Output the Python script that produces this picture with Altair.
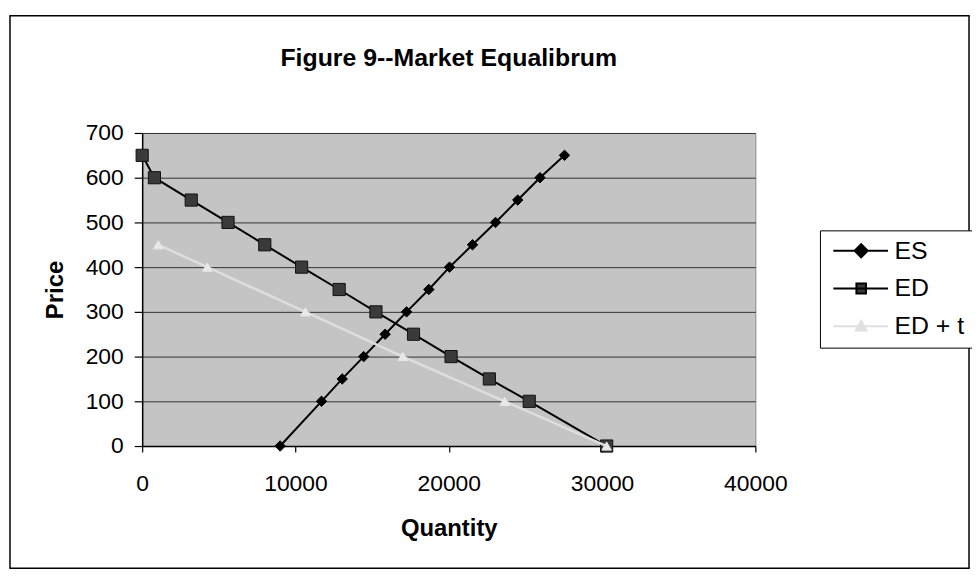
import altair as alt
import pandas as pd

# ---- data ----
SERIES = ["ES", "ED", "ED + t"]

es_quantity = [9000, 11700, 13050, 14450, 15850, 17250, 18700, 20050, 21550, 23050, 24500, 25950, 27550]
es_price = [0, 100, 150, 200, 250, 300, 350, 400, 450, 500, 550, 600, 650]

ed_quantity = [0, 800, 3200, 5600, 8000, 10400, 12850, 15250, 17700, 20150, 22650, 25250, 30300]
ed_price = [650, 600, 550, 500, 450, 400, 350, 300, 250, 200, 150, 100, 0]

edt_quantity = [1050, 4250, 10650, 17000, 23650, 30300]
edt_price = [450, 400, 300, 200, 100, 0]

y_ticks = [0, 100, 200, 300, 400, 500, 600, 700]
x_ticks = [0, 10000, 20000, 30000, 40000]

TITLE = "Figure 9--Market Equalibrum"
X_TITLE = "Quantity"
Y_TITLE = "Price"

FONT = "Liberation Sans"

rows = []
for name, qs, ps in [("ES", es_quantity, es_price), ("ED", ed_quantity, ed_price), ("ED + t", edt_quantity, edt_price)]:
    for i, (q, p) in enumerate(zip(qs, ps)):
        rows.append({"series": name, "quantity": q, "price": p, "idx": i})
df = pd.DataFrame(rows)

X = alt.X("quantity:Q",
          scale=alt.Scale(domain=[0, 40000], nice=False, zero=False),
          axis=alt.Axis(values=x_ticks, title=X_TITLE, format="d", tickSize=6,
                        labelPadding=21, titlePadding=21, grid=False, labelFlush=False,
                        labelOverlap=False))
Y = alt.Y("price:Q",
          scale=alt.Scale(domain=[0, 700], nice=False),
          axis=alt.Axis(values=y_ticks, title=Y_TITLE, tickSize=8, labelPadding=11,
                        titlePadding=18, grid=True, gridColor="#333333", gridWidth=1))

style = {
    "ES": dict(line="#000000", lw=2, shape="diamond", fill="#000000", stroke="#000000", size=110),
    "ED": dict(line="#000000", lw=2, shape="square", fill="#3a3a3a", stroke="#111111", size=150),
    "ED + t": dict(line="#dedede", lw=2.5, shape="triangle-up", fill="#e8e8e8", stroke="#e8e8e8", size=90),
}

frame = alt.Chart(pd.DataFrame({"k": [0]})).mark_rect(
    fill="white", fillOpacity=0, stroke="black", strokeWidth=1.5
).encode(x=alt.value(-133), x2=alt.value(832), y=alt.value(-118), y2=alt.value(438))

layers = [frame]
for name in SERIES:
    s = style[name]
    base = alt.Chart(df[df.series == name])
    layers.append(base.mark_line(color=s["line"], strokeWidth=s["lw"]).encode(x=X, y=Y, order="idx:Q"))
    layers.append(base.mark_point(filled=True, shape=s["shape"], size=s["size"], fill=s["fill"],
                                  stroke=s["stroke"], strokeWidth=1, opacity=1).encode(x=X, y=Y))

# legend symbols: line + marker as custom paths (unit = 6px at symbolSize 144)
path_es = "M-1.17,0H8M3.5,-1.1L4.6,0L3.5,1.1L2.4,0Z"
path_ed = "M-1.17,0H8M2.7,-0.85H4.3V0.85H2.7Z"
path_edt = "M-1.17,0H8M3.5,-0.9L4.4,0.7H2.6Z"

leg_props = dict(orient="none", legendX=682, legendY=98, title=None,
                 strokeColor="black", fillColor="white", padding=8, cornerRadius=0,
                 labelFont=FONT, labelFontSize=25, labelColor="black", labelOffset=42,
                 symbolSize=144, symbolStrokeWidth=2, rowPadding=12, symbolOpacity=1)

legend_layer = alt.Chart(df).transform_filter("false").mark_point(filled=True, opacity=1).encode(
    x=X, y=Y,
    shape=alt.Shape("series:N", scale=alt.Scale(domain=SERIES, range=[path_es, path_ed, path_edt]),
                    legend=alt.Legend(**leg_props)),
    fill=alt.Fill("series:N", scale=alt.Scale(domain=SERIES, range=["#000000", "#3a3a3a", "#e0e0e0"]),
                  legend=alt.Legend(**leg_props)),
    stroke=alt.Stroke("series:N", scale=alt.Scale(domain=SERIES, range=["#000000", "#000000", "#e0e0e0"]),
                      legend=alt.Legend(**leg_props)),
)
layers.append(legend_layer)

chart = alt.layer(*layers).properties(
    width=617, height=315,
    background="white",
    title=alt.TitleParams(TITLE, font=FONT, fontSize=25, fontWeight="bold", color="black",
                          anchor="middle", offset=-56),
    autosize=alt.AutoSizeParams(type="none"),
    padding={"left": 135, "top": 124, "right": 218, "bottom": 126},
).configure_view(
    fill="#c4c4c4", stroke="#8a8a8a", strokeWidth=1
).configure_axis(
    labelFont=FONT, labelFontSize=23, labelColor="black",
    titleFont=FONT, titleFontSize=24, titleFontWeight="bold", titleColor="black",
    domainColor="black", domainWidth=1.5, tickColor="black", tickWidth=1.2
)

chart.save("out.html", embed_options={"renderer": "svg", "actions": False})
